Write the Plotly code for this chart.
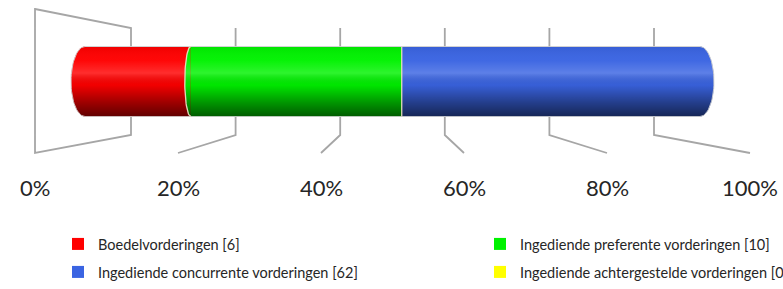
import numpy as np
import plotly.graph_objects as go

# ---------------- data ----------------
categories = [
    "Boedelvorderingen [6]",
    "Ingediende preferente vorderingen [10]",
    "Ingediende concurrente vorderingen [62]",
    "Ingediende achtergestelde vorderingen [0]",
]
shares = [17.2, 34.3, 48.5, 0.0]          # share of total, percent
colors = ["#ff0000", "#00f200", "#3a64e2", "#ffff00"]
tick_vals = [0, 20, 40, 60, 80, 100]
tick_labels = ["0%", "20%", "40%", "60%", "80%", "100%"]

# ---------------- geometry (layout only) ----------------
W, H = 783, 289
X0_PX, X100_PX = 85.0, 700.0          # bar plane
SC = (X100_PX - X0_PX) / 100.0        # px per percent
YC_PX, THICK = 81.5, 70.0             # bar centre / thickness in px
K_BACK, K_FRONT = 523.0 / 615.0, 715.0 / 615.0   # perspective planes
FONT = "Lato, 'Open Sans', sans-serif"
GRID = "#a6a6a6"


def fy(p):
    return (YC_PX - p) / THICK


def plane(v, k):
    return 50 + (v - 50) * k


def bulge(v):
    r = (v - 50) / 50.0
    return 14.0 * r * r * np.sign(r) / SC


def arc(b):
    t = np.linspace(np.pi / 2, -np.pi / 2, 40)
    return list(b + bulge(b) * np.cos(t)), list(0.5 * np.sin(t))


fig = go.Figure()

# bars (data marks + legend)
for i, (cat, s, c) in enumerate(zip(categories, shares, colors)):
    fig.add_trace(go.Bar(
        x=[s], y=[0], orientation="h", width=1, name=cat,
        marker=dict(color=c, line=dict(width=0)),
        legend="legend" if i == 0 else f"legend{i + 1}",
        hoverinfo="skip",
    ))

cum = np.cumsum(shares)
total = cum[-1]
nz = [i for i, s in enumerate(shares) if s > 0]

# boundary bulges
for j in range(len(shares) - 1):
    b = cum[j]
    if shares[j] <= 0 or b >= total:
        continue
    nxt = next((k for k in range(j + 1, len(shares)) if shares[k] > 0), None)
    if nxt is None:
        continue
    xs, ys = arc(b)
    col = colors[nxt] if bulge(b) < 0 else colors[j]
    fig.add_trace(go.Scatter(x=xs + [xs[0]], y=ys + [ys[0]], fill="toself",
                             fillcolor=col, mode="none", showlegend=False,
                             hoverinfo="skip"))

# end caps
for v, idx in [(0.0, nz[0]), (total, nz[-1])]:
    xs, ys = arc(v)
    fig.add_trace(go.Scatter(x=xs + [xs[0]], y=ys + [ys[0]], fill="toself",
                             fillcolor=colors[idx], mode="none",
                             showlegend=False, hoverinfo="skip"))

# cylinder shading overlay
lx, ly = arc(0.0)
rx, ry = arc(total)
ox = lx[::-1] + rx + [lx[-1]]
oy = ly[::-1] + ry + [ly[-1]]
fig.add_trace(go.Scatter(
    x=ox, y=oy, fill="toself", mode="lines",
    line=dict(color="rgba(205,205,205,0.9)", width=1),
    fillgradient=dict(
        type="vertical", start=-0.5, stop=0.5,
        colorscale=[
            [0.0, "rgba(0,0,0,0.62)"],
            [0.2, "rgba(0,0,0,0.38)"],
            [0.45, "rgba(0,0,0,0.05)"],
            [0.62, "rgba(255,255,255,0.18)"],
            [0.8, "rgba(255,255,255,0.03)"],
            [1.0, "rgba(0,0,0,0.06)"],
        ],
    ),
    showlegend=False, hoverinfo="skip",
))

# boundary lines
for j in range(len(shares) - 1):
    b = cum[j]
    if shares[j] <= 0 or b >= total:
        continue
    xs, ys = arc(b)
    fig.add_trace(go.Scatter(x=xs, y=ys, mode="lines",
                             line=dict(color="rgba(235,222,195,0.95)", width=1.3),
                             showlegend=False, hoverinfo="skip"))

# perspective floor / wall grid
shapes = []
for v in tick_vals:
    xb, xf = plane(v, K_BACK), plane(v, K_FRONT)
    if v == tick_vals[0]:
        path = (f"M{xf},{fy(9)} L{xb},{fy(28)} L{xb},{fy(135)} "
                f"L{xf},{fy(153)} Z")
    else:
        path = f"M{xb},{fy(28)} L{xb},{fy(135)} L{xf},{fy(153)}"
    shapes.append(dict(type="path", path=path, xref="x", yref="y",
                       line=dict(color=GRID, width=1.8), layer="below"))

annotations = [
    dict(x=plane(v, K_FRONT), y=fy(187), xref="x", yref="y", text=t,
         showarrow=False, xanchor="center", yanchor="middle",
         font=dict(family=FONT, size=22, color="#262626"))
    for v, t in zip(tick_vals, tick_labels)
]

leg_font = dict(family=FONT, size=14.5, color="#262626")
leg_pos = [(58, 244), (480, 244), (58, 272), (480, 272)]
legends = {}
for i, (px, py) in enumerate(leg_pos):
    key = "legend" if i == 0 else f"legend{i + 1}"
    legends[key] = dict(x=px / W, y=1 - py / H, xanchor="left",
                        yanchor="middle", font=leg_font,
                        bgcolor="rgba(0,0,0,0)", borderwidth=0,
                        orientation="v")

xr = [-X0_PX / SC, (W - X0_PX) / SC]
yr = [fy(H), fy(0)]

fig.update_layout(
    width=W, height=H,
    margin=dict(l=0, r=0, t=0, b=0, autoexpand=False),
    paper_bgcolor="white", plot_bgcolor="white",
    barmode="stack", bargap=0,
    xaxis=dict(range=xr, visible=False, fixedrange=True),
    yaxis=dict(range=yr, visible=False, fixedrange=True),
    shapes=shapes, annotations=annotations,
    showlegend=True,
    **legends,
)

fig.write_html(
    "out.html",
    config=dict(displayModeBar=False),
    post_script="document.body.style.margin='0';document.body.style.overflow='hidden';",
)
